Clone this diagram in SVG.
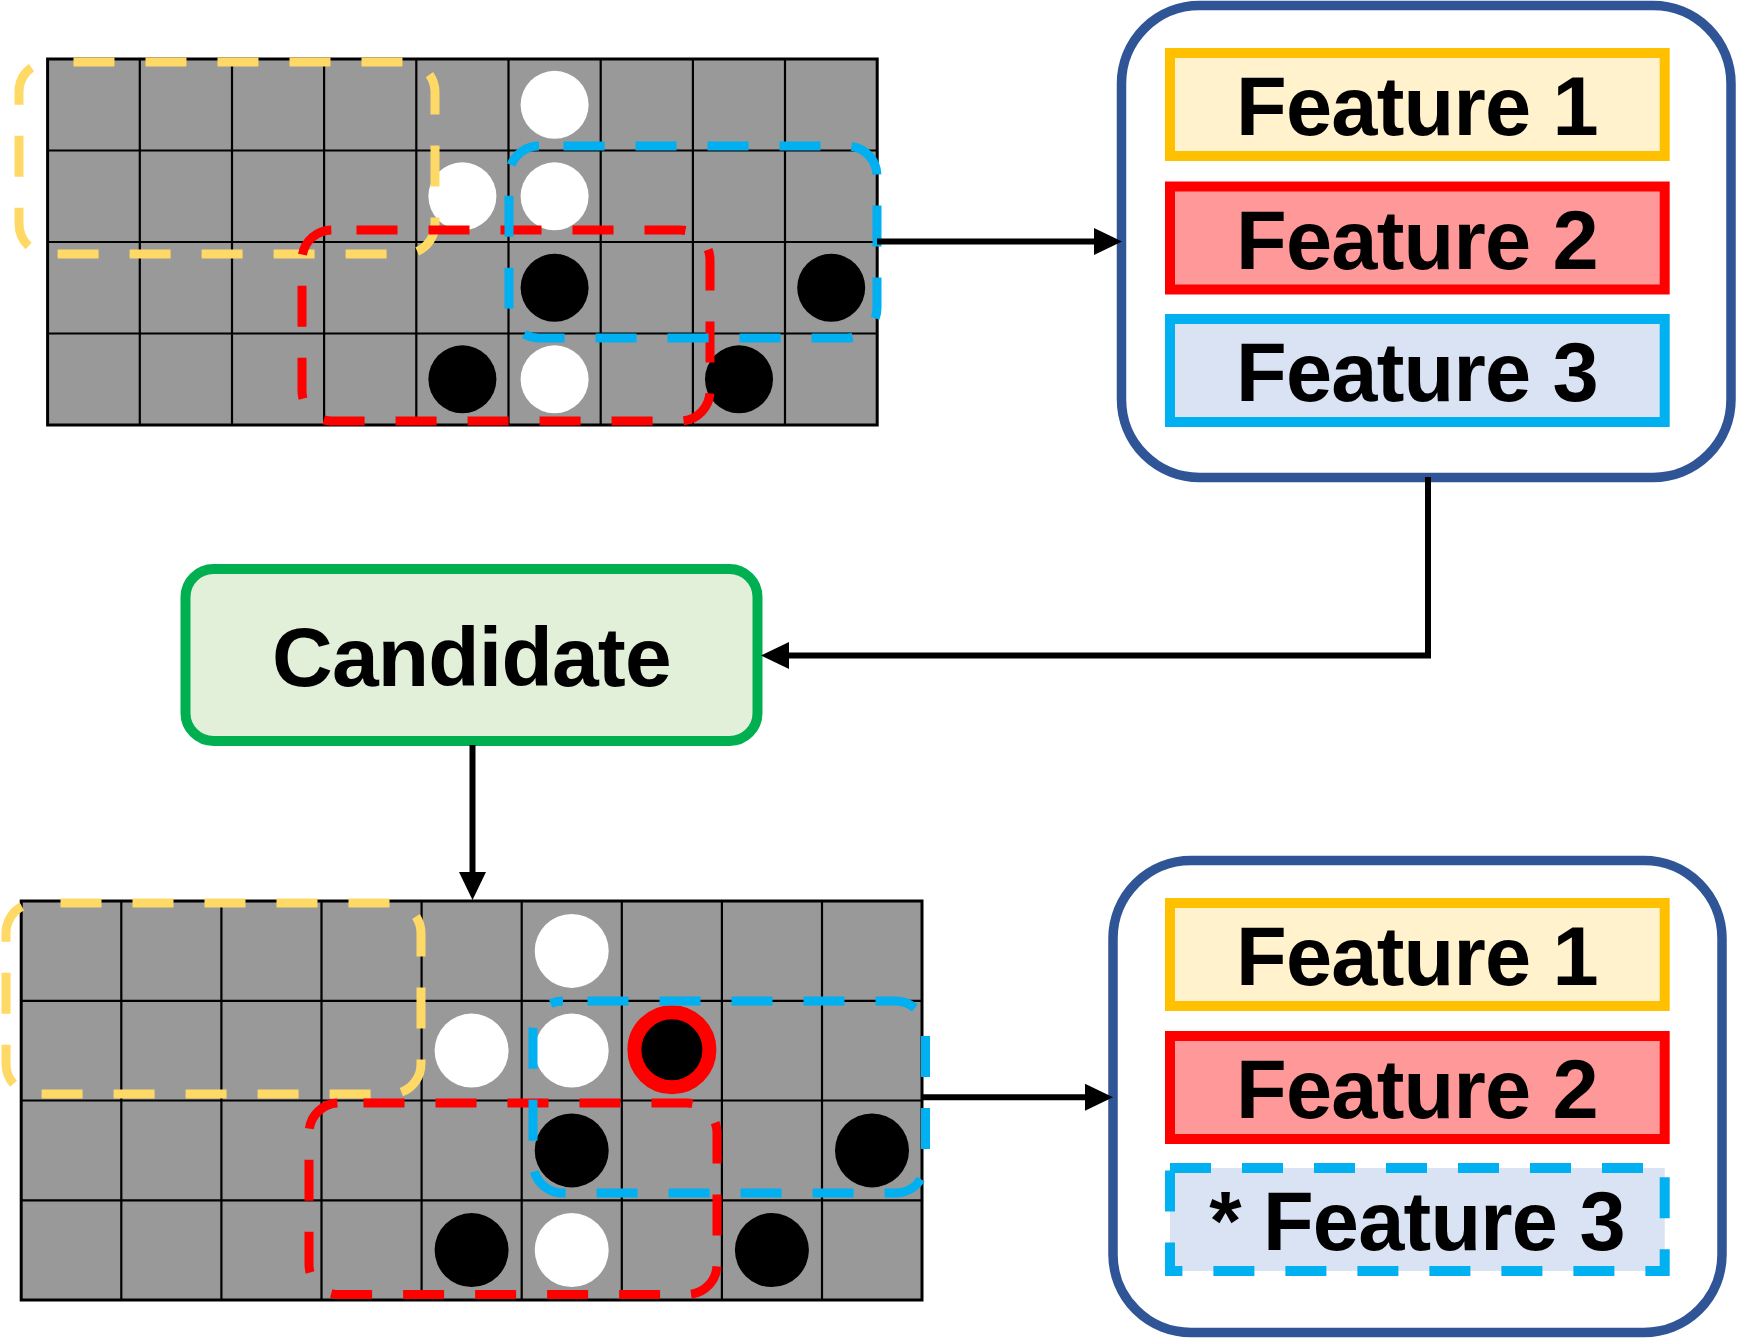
<svg xmlns="http://www.w3.org/2000/svg" width="1738" height="1339" viewBox="0 0 1738 1339">
<style>
.board{fill:#999999;stroke:#000;stroke-width:3}
.gl{fill:none;stroke:#000;stroke-width:2.2}
.w{fill:#fff}
.k{fill:#000}
.dash{fill:none;stroke-width:9;stroke-dasharray:41 31;stroke-dashoffset:47.5}
.dy{stroke:#FFD966}
.dr{stroke:#FF0000}
.db{stroke:#00B0F0}
.panel{fill:#fff;stroke:#2F5597;stroke-width:9.5}
.f1{fill:#FFF2CC;stroke:#FFC000;stroke-width:10}
.f2{fill:#FF9999;stroke:#FF0000;stroke-width:10}
.f3{fill:#DAE3F3;stroke:#00B0F0;stroke-width:10}
.f3d{fill:#DAE3F3;stroke:#00B0F0;stroke-width:10;stroke-dasharray:41 31}
.lbl{font-family:"Liberation Sans",Arial,sans-serif;font-weight:bold;font-size:83px;letter-spacing:-0.8px;text-anchor:middle;fill:#000}
.cand{fill:#E2F0D9;stroke:#00B050;stroke-width:10}
.conn{fill:none;stroke:#000;stroke-width:6}
</style>
<defs>
<marker id="ah" markerUnits="userSpaceOnUse" markerWidth="28" markerHeight="27" refX="0" refY="13.5" orient="auto" overflow="visible">
<path d="M0,0 L28,13.5 L0,27 z" fill="#000"/>
</marker>
</defs>

<g id="board-top">
<rect class="board" x="47.6" y="59" width="829.6" height="366"/>
<path class="gl" d="M139.8,59V425M232,59V425M324.1,59V425M416.3,59V425M508.5,59V425M600.7,59V425M692.9,59V425M785,59V425M47.6,150.5H877.2M47.6,242H877.2M47.6,333.5H877.2"/>
<circle class="w" cx="554.6" cy="104.8" r="34"/>
<circle class="w" cx="462.4" cy="196.3" r="34"/>
<circle class="w" cx="554.6" cy="196.3" r="34"/>
<circle class="k" cx="554.6" cy="287.8" r="34"/>
<circle class="k" cx="831.2" cy="287.8" r="34"/>
<circle class="k" cx="462.4" cy="379.3" r="34"/>
<circle class="w" cx="554.6" cy="379.3" r="34"/>
<circle class="k" cx="739" cy="379.3" r="34"/>
<rect class="dash dy" x="19" y="62" width="416" height="192" rx="30"/>
<rect class="dash dr" x="302" y="230" width="408" height="191" rx="30"/>
<rect class="dash db" x="509" y="146" width="368" height="192" rx="30"/>
</g>

<g id="features-top">
<rect class="panel" x="1121.5" y="5.5" width="609.5" height="472" rx="78"/>
<rect class="f1" x="1170" y="53" width="494.7" height="103"/>
<text class="lbl" x="1417" y="135">Feature 1</text>
<rect class="f2" x="1170" y="186.5" width="494.7" height="103"/>
<text class="lbl" x="1417" y="268.5">Feature 2</text>
<rect class="f3" x="1170" y="319" width="494.7" height="103"/>
<text class="lbl" x="1417" y="401">Feature 3</text>
</g>

<g id="candidate">
<rect class="cand" x="185.5" y="569" width="572" height="172" rx="28"/>
<text class="lbl" x="471.5" y="686" style="font-size:84px">Candidate</text>
</g>

<g id="board-bottom">
<rect class="board" x="21.2" y="901" width="900.8" height="399"/>
<path class="gl" d="M121.3,901V1300M221.4,901V1300M321.5,901V1300M421.6,901V1300M521.7,901V1300M621.8,901V1300M721.9,901V1300M822,901V1300M21.2,1000.8H922M21.2,1100.5H922M21.2,1200.3H922"/>
<circle class="w" cx="571.7" cy="950.9" r="37"/>
<circle class="w" cx="471.6" cy="1050.6" r="37"/>
<circle class="w" cx="571.7" cy="1050.6" r="37"/>
<circle cx="671.9" cy="1049.8" r="37.5" fill="#000" stroke="#FF0000" stroke-width="14"/>
<circle class="k" cx="571.7" cy="1150.4" r="37"/>
<circle class="k" cx="872" cy="1150.4" r="37"/>
<circle class="k" cx="471.6" cy="1250.1" r="37"/>
<circle class="w" cx="571.7" cy="1250.1" r="37"/>
<circle class="k" cx="771.9" cy="1250.1" r="37"/>
<rect class="dash dy" x="6" y="903" width="415" height="191" rx="30"/>
<rect class="dash dr" x="309" y="1103" width="408" height="191.5" rx="30"/>
<rect class="dash db" x="533" y="1001" width="392.5" height="192" rx="30"/>
</g>

<g id="features-bottom">
<rect class="panel" x="1113" y="860.5" width="609" height="472" rx="78"/>
<rect class="f1" x="1170" y="903" width="494.7" height="103"/>
<text class="lbl" x="1417" y="985">Feature 1</text>
<rect class="f2" x="1170" y="1036" width="494.7" height="103"/>
<text class="lbl" x="1417" y="1118">Feature 2</text>
<rect class="f3d" x="1170" y="1168" width="494.7" height="103"/>
<text class="lbl" x="1417" y="1250">* Feature 3</text>
</g>

<g id="connectors">
<path class="conn" d="M877,241.5 H1094" marker-end="url(#ah)"/>
<path class="conn" d="M1428,477 V655.5 H789" marker-end="url(#ah)"/>
<path class="conn" d="M472.5,745 V872" marker-end="url(#ah)"/>
<path class="conn" d="M922,1097.3 H1085" marker-end="url(#ah)"/>
</g>
</svg>
